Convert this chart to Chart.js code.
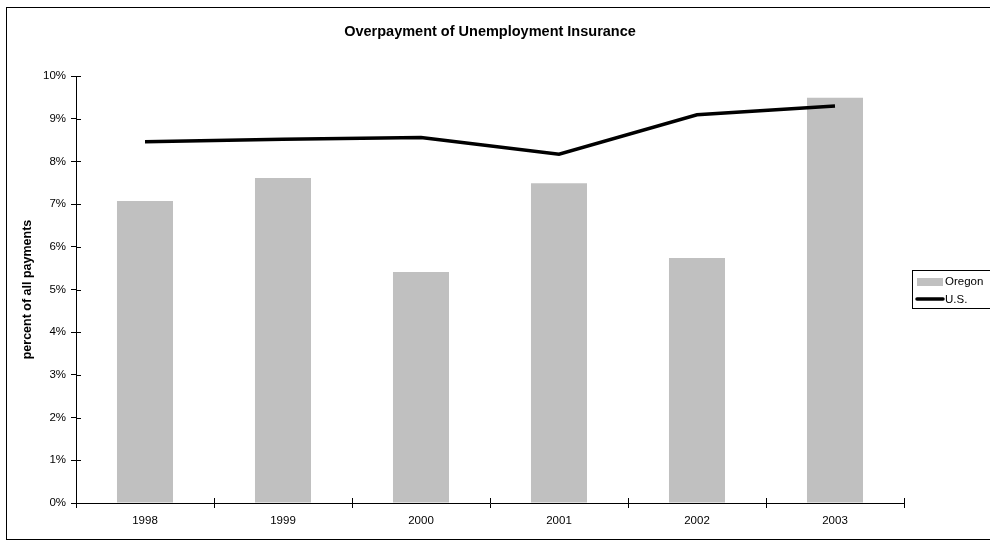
<!DOCTYPE html>
<html>
<head>
<meta charset="utf-8">
<title>Overpayment of Unemployment Insurance</title>
<script src="https://cdn.jsdelivr.net/npm/chart.js@4"></script>
<style>
  html, body { margin: 0; padding: 0; background: #fff; }
  #wrap { width: 990px; height: 542px; }
</style>
</head>
<body>
<div id="wrap"><canvas id="overpayChart" width="990" height="542"></canvas></div>
<script>
// values (percent of all payments)
const years = ['1998', '1999', '2000', '2001', '2002', '2003'];
const oregonRates = [7.07, 7.61, 5.41, 7.49, 5.74, 9.49];
const usRates = [8.46, 8.52, 8.56, 8.17, 9.09, 9.30];
const seriesNames = ['Oregon', 'U.S.'];
const chartTitle = 'Overpayment of Unemployment Insurance';

const FONT = 'Arial, "Liberation Sans", sans-serif';

// frame, title, ticks that cross the axes and the legend box
const extrasPlugin = {
  id: 'extras',
  afterDraw(chart) {
    const { ctx, chartArea, scales } = chart;
    ctx.save();

    // outer frame
    ctx.strokeStyle = '#000';
    ctx.lineWidth = 1;
    ctx.strokeRect(6.5, 7.5, 1000, 532);

    // title, centred on the whole frame
    ctx.fillStyle = '#000';
    ctx.font = 'bold 14.5px ' + FONT;
    ctx.textAlign = 'center';
    ctx.textBaseline = 'middle';
    ctx.fillText(chartTitle, 490, 32);

    // inner half of the tick marks
    ctx.beginPath();
    scales.y.ticks.forEach((t, i) => {
      const y = Math.round(scales.y.getPixelForTick(i)) + 0.5;
      ctx.moveTo(chartArea.left, y);
      ctx.lineTo(chartArea.left + 5, y);
    });
    const n = years.length;
    const step = (chartArea.right - chartArea.left) / n;
    for (let i = 0; i <= n; i++) {
      const x = Math.round(chartArea.left + i * step) + 0.5;
      ctx.moveTo(x, chartArea.bottom);
      ctx.lineTo(x, chartArea.bottom - 5);
    }
    ctx.stroke();

    // legend
    ctx.strokeRect(912.5, 270.5, 100, 38);
    ctx.fillStyle = '#c0c0c0';
    ctx.fillRect(917, 278, 26, 8);
    ctx.beginPath();
    ctx.lineWidth = 3.5;
    ctx.lineCap = 'round';
    ctx.moveTo(917, 299);
    ctx.lineTo(943, 299);
    ctx.stroke();
    ctx.fillStyle = '#000';
    ctx.font = '11.5px ' + FONT;
    ctx.textAlign = 'left';
    ctx.fillText(seriesNames[0], 945, 282);
    ctx.fillText(seriesNames[1], 945, 300);

    ctx.restore();
  }
};

new Chart(document.getElementById('overpayChart'), {
  data: {
    labels: years,
    datasets: [
      {
        type: 'line',
        label: seriesNames[1],
        data: usRates,
        borderColor: '#000',
        borderWidth: 3.5,
        pointRadius: 0,
        tension: 0,
        fill: false,
        order: 0,
      },
      {
        type: 'bar',
        label: seriesNames[0],
        data: oregonRates,
        backgroundColor: '#c0c0c0',
        borderWidth: 0,
        categoryPercentage: 1,
        barPercentage: 0.406,
        order: 1,
      },
    ],
  },
  options: {
    responsive: false,
    animation: false,
    layout: { padding: { top: 76, right: 86, bottom: 0, left: 0 } },
    plugins: {
      legend: { display: false },
      tooltip: { enabled: false },
      title: { display: false },
    },
    scales: {
      x: {
        offset: true,
        grid: { offset: true, drawOnChartArea: false, tickLength: 5, color: '#000' },
        border: { color: '#000' },
        ticks: { color: '#000', padding: 6, font: { family: FONT, size: 11.5 } },
        afterFit: (scale) => { scale.height = 39; },
      },
      y: {
        min: 0,
        max: 10,
        grid: { drawOnChartArea: false, tickLength: 5, color: '#000' },
        border: { color: '#000' },
        ticks: {
          stepSize: 1,
          padding: 5,
          color: '#000',
          font: { family: FONT, size: 11.5 },
          callback: (v) => v + '%',
        },
        title: {
          display: true,
          text: 'percent of all payments',
          color: '#000',
          font: { family: FONT, size: 12.5, weight: 'bold' },
          padding: { top: 20, bottom: 0 },
        },
        afterFit: (scale) => { scale.width = 76; },
      },
    },
  },
  plugins: [extrasPlugin],
});
</script>
</body>
</html>
